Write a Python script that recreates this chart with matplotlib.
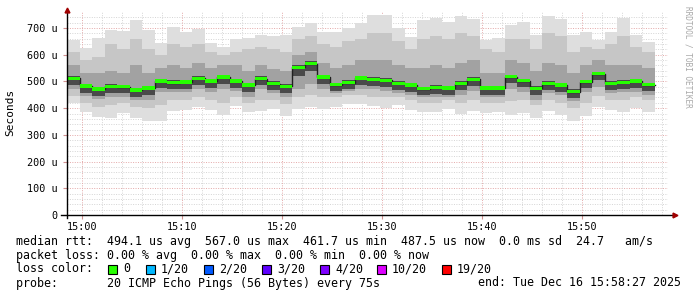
import numpy as np
from matplotlib import pyplot as plt
from matplotlib.patches import Rectangle

# smokeping style latency graph, 75s steps, values in microseconds
median = [512, 483, 471, 482, 481, 468, 476, 501, 496, 498, 512, 502, 516, 501, 486, 511, 492, 482, 553, 567,
          516, 488, 496, 513, 508, 504, 493, 487, 473, 478, 476, 492, 508, 476, 476, 518, 503, 474, 492, 487,
          462, 499, 529, 493, 497, 502, 488]
rtt_max = [655, 625, 663, 693, 689, 730, 693, 644, 704, 685, 697, 644, 629, 659, 663, 674, 670, 674, 704, 719,
           685, 685, 700, 719, 749, 749, 700, 666, 730, 738, 723, 745, 734, 655, 663, 712, 723, 674, 745, 734,
           674, 685, 655, 685, 738, 674, 648]
rtt_min = [420, 386, 367, 363, 382, 363, 352, 352, 390, 393, 404, 393, 375, 408, 386, 390, 397, 371, 397, 404,
           397, 404, 416, 416, 408, 401, 412, 393, 386, 386, 397, 378, 390, 382, 386, 375, 382, 363, 390, 375,
           352, 371, 404, 393, 386, 401, 386]
p90 = [610, 580, 590, 640, 620, 660, 620, 600, 640, 630, 640, 610, 600, 610, 620, 630, 620, 610, 660, 670,
       640, 630, 650, 660, 680, 680, 650, 620, 660, 670, 660, 680, 670, 620, 610, 660, 660, 620, 680, 670,
       610, 630, 620, 640, 670, 630, 610]
p10 = [445, 420, 405, 410, 420, 405, 400, 410, 430, 430, 440, 430, 420, 440, 420, 430, 430, 415, 440, 450,
       440, 440, 450, 450, 440, 440, 440, 430, 420, 420, 430, 420, 430, 420, 420, 425, 430, 410, 430, 420,
       400, 420, 445, 430, 430, 440, 430]
p75 = [560, 530, 530, 540, 530, 560, 530, 550, 560, 550, 570, 550, 560, 560, 540, 560, 545, 540, 600, 610,
       570, 550, 560, 580, 580, 580, 560, 550, 550, 560, 550, 570, 580, 530, 530, 580, 570, 540, 570, 560,
       530, 560, 580, 560, 560, 560, 550]
p25 = [470, 445, 435, 440, 440, 430, 430, 460, 460, 460, 470, 460, 470, 465, 440, 470, 455, 440, 470, 490,
       470, 455, 465, 470, 470, 465, 455, 450, 440, 440, 440, 450, 465, 440, 440, 470, 460, 430, 455, 450,
       425, 460, 480, 455, 460, 460, 450]
core_hi = [520, 492, 478, 490, 488, 476, 484, 510, 504, 506, 520, 510, 524, 509, 494, 519, 500, 490, 561, 575,
           524, 496, 504, 521, 516, 512, 501, 495, 481, 486, 484, 500, 516, 484, 484, 526, 511, 482, 500, 495,
           470, 507, 537, 501, 505, 510, 496]
core_lo = [487, 458, 446, 457, 456, 443, 451, 476, 471, 473, 487, 477, 491, 476, 461, 486, 467, 457, 522, 540,
           491, 463, 471, 488, 483, 479, 468, 462, 448, 453, 451, 467, 483, 451, 451, 493, 478, 449, 467, 462,
           437, 474, 504, 468, 472, 477, 463]

time_labels = ["15:00", "15:10", "15:20", "15:30", "15:40", "15:50"]
time_ticks = [0, 10, 20, 30, 40, 50]  # minutes after 15:00
y_ticks = [0, 100, 200, 300, 400, 500, 600, 700]
y_labels = ["0", "100 u", "200 u", "300 u", "400 u", "500 u", "600 u", "700 u"]

loss_labels = ["0", "1/20", "2/20", "3/20", "4/20", "10/20", "19/20"]
loss_colors = ["#26ff00", "#00b8ff", "#0059ff", "#5e00ff", "#7e00ff", "#dd00ff", "#ff0000"]

t0 = -1.47
step = 1.25
n = len(median)
x = t0 + step * np.arange(n)

W, H = 697, 297
fig = plt.figure(figsize=(W / 100, H / 100), dpi=100)
ax = fig.add_axes([67 / W, (H - 215) / H, 601 / W, 203 / H])
mono = "DejaVu Sans Mono"

def band(lo, hi, color):
    lo = np.array(lo); hi = np.array(hi)
    ax.bar(x, hi - lo, bottom=lo, width=step, align="edge", color=color, linewidth=0, zorder=2)

band(rtt_min, rtt_max, "#dedede")
band(p10, p90, "#c6c6c6")
band(p25, p75, "#a2a2a2")
band(core_lo, core_hi, "#4a4a4a")

# median step line + loss coloured bars
xs = np.append(x, x[-1] + step)
ax.step(xs, np.append(median, median[-1]), where="post", color="#202020", lw=1, zorder=3)
med = np.array(median)
ax.bar(x, 13, bottom=med - 6.5, width=step, align="edge", color=loss_colors[0], linewidth=0, zorder=4)

ax.set_xlim(t0, t0 + 601 / 10)
ax.set_ylim(0, 760)

# grid
for v in range(20, 760, 20):
    if v % 100:
        ax.axhline(v, color="#d4d4d4", lw=0.7, ls=(0, (1, 1.5)), zorder=1)
for v in range(100, 760, 100):
    ax.axhline(v, color="#e4a8a8", lw=0.7, ls=(0, (1, 1.5)), zorder=1)
for m in range(-0, 60, 2):
    if m % 10:
        ax.axvline(m, color="#d4d4d4", lw=0.7, ls=(0, (1, 1.5)), zorder=1)
for m in time_ticks:
    ax.axvline(m, color="#e4a8a8", lw=0.7, ls=(0, (1, 1.5)), zorder=1)

for s in ax.spines.values():
    s.set_visible(False)
ax.set_xticks(time_ticks)
ax.set_xticklabels(time_labels, fontsize=7.3, family=mono)
ax.set_yticks(y_ticks)
ax.set_yticklabels(y_labels, fontsize=7.3, family=mono)
ax.tick_params(axis="x", length=3, color="#d09090", pad=2)
ax.tick_params(axis="y", length=3, color="#d09090", pad=4)
ax.set_facecolor("white")

# axes lines with arrows
ax.plot([-0.01, 1.01], [0, 0], transform=ax.transAxes, color="black", lw=1, clip_on=False, zorder=5)
ax.plot([0, 0], [-0.015, 1.0], transform=ax.transAxes, color="black", lw=1, clip_on=False, zorder=5)
ax.plot([1.012], [0], transform=ax.transAxes, marker=">", ms=3.5, color="#a00000", clip_on=False, zorder=6)
ax.plot([0], [1.01], transform=ax.transAxes, marker="^", ms=3.5, color="#a00000", clip_on=False, zorder=6)

fig.text(10 / W, 1 - 112 / H, "Seconds", rotation=90, ha="center", va="center", fontsize=8, family=mono)
fig.text(688 / W, 1 - 6 / H, "RRDTOOL / TOBI OETIKER", rotation=270, ha="center", va="top",
         fontsize=5.6, family=mono, color="#a8a8a8")

fs = 8.4
def px(xp, yp):
    return xp / W, 1 - yp / H

fig.text(*px(16, 241), "median rtt:  494.1 us avg  567.0 us max  461.7 us min  487.5 us now  0.0 ms sd  24.7   am/s",
         fontsize=fs, family=mono, va="center")
fig.text(*px(16, 255), "packet loss: 0.00 % avg  0.00 % max  0.00 % min  0.00 % now",
         fontsize=fs, family=mono, va="center")
fig.text(*px(16, 269), "loss color:", fontsize=fs, family=mono, va="center")
box_x = [108, 146, 204, 262, 320, 377, 442]
for bx, lab, col in zip(box_x, loss_labels, loss_colors):
    fig.patches.append(Rectangle((bx / W, 1 - 274 / H), 9 / W, 9 / H, transform=fig.transFigure,
                                 facecolor=col, edgecolor="black", lw=0.8))
    fig.text(*px(bx + 15, 269), lab, fontsize=fs, family=mono, va="center")
fig.text(*px(16, 283), "probe:       20 ICMP Echo Pings (56 Bytes) every 75s", fontsize=fs, family=mono, va="center")
fig.text(*px(478, 283), "end: Tue Dec 16 15:58:27 2025", fontsize=fs, family=mono, va="center")

plt.savefig("out.png", dpi=100)
